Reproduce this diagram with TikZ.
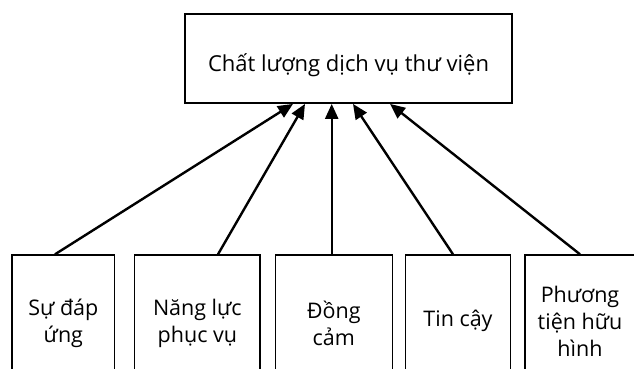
\documentclass[tikz,border=0pt]{standalone}
\usepackage{fontspec}
\setmainfont{Open Sans}
\usetikzlibrary{arrows.meta}
\begin{document}
\begin{tikzpicture}[x=1pt,y=-1pt,
  topbox/.style={draw=black,line width=1.8pt,minimum width=327pt,minimum height=89pt,inner sep=0pt},
  botbox/.style={draw=black,line width=1.4pt,minimum width=#1,minimum height=128pt,inner sep=0pt},
  lbl/.style={inner sep=0pt,align=center,font=\fontsize{21.5}{27}\selectfont},
  arr/.style={line width=2.4pt,-{Triangle[length=15pt,width=13pt]}}]
\useasboundingbox (0,0) rectangle (634,368);
\node[topbox] (top) at (348.5,58.5) {};
\node[lbl,font=\fontsize{22}{27}\selectfont] (toptext) at (348.5,65) {Chất lượng dịch vụ thư viện};
\node[botbox=102.7pt] (b1) at (63.35,319) {};
\node[botbox=125.3pt] (b2) at (197.35,319) {};
\node[botbox=117pt] (b3) at (333.8,319) {};
\node[botbox=104.6pt] (b4) at (458,319) {};
\node[botbox=120pt] (b5) at (585,319) {};
\node[lbl] (t1) at ([yshift=-4pt]b1.center) {Sự đáp\\ứng};
\node[lbl] (t2) at ([yshift=-4pt]b2.center) {Năng lực\\phục vụ};
\node[lbl] (t3) at ([yshift=-4pt]b3.center) {Đồng\\cảm};
\node[lbl] (t4) at ([yshift=-2pt]b4.center) {Tin cậy};
\node[lbl] (t5) at ([xshift=-5pt,yshift=-2pt]b5.center) {Phương\\tiện hữu\\hình};
\draw[arr] (55,0 |- b1.north) -- (293,0 |- top.south);
\draw[arr] (218,0 |- b2.north) -- (305,0 |- top.south);
\draw[arr] (331.7,0 |- b3.north) -- (331.7,0 |- top.south);
\draw[arr] (453,0 |- b4.north) -- (353,0 |- top.south);
\draw[arr] (580,0 |- b5.north) -- (390,0 |- top.south);
\end{tikzpicture}
\end{document}
